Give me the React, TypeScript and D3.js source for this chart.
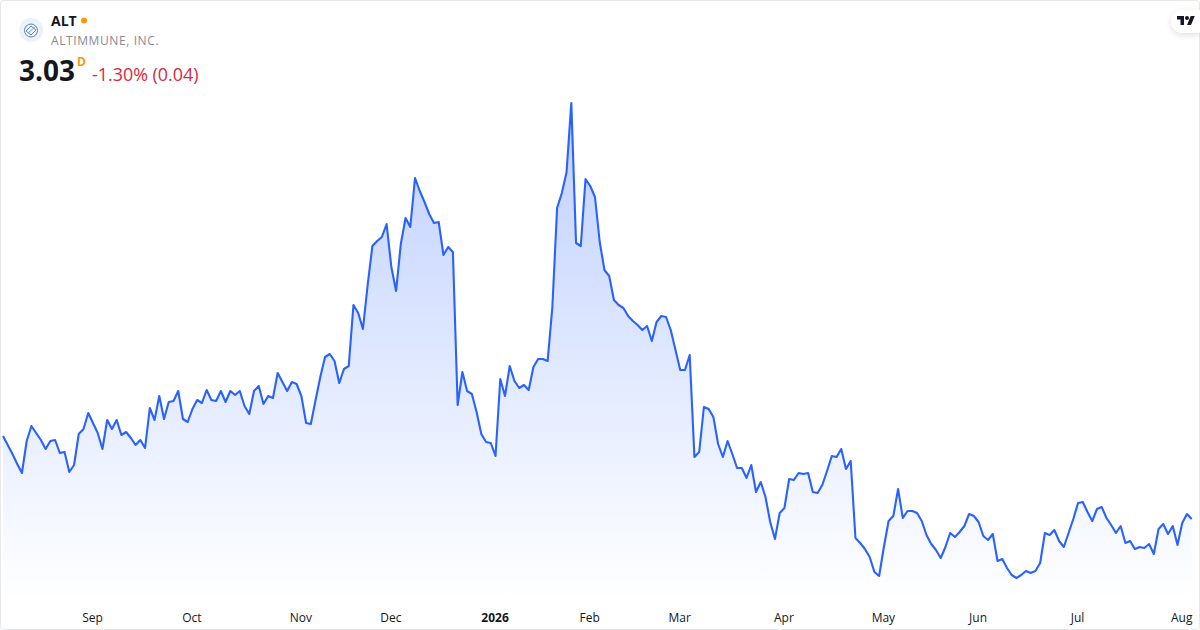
import React from "react";
import * as d3 from "d3";

const width = 1200;
const height = 630;

const ticker = "ALT";
const companyName = "ALTIMMUNE, INC.";
const lastPrice = "3.03";
const priceChange = "-1.30% (0.04)";

// market holidays between the first and last session
const holidays = [
  "2025-09-01", "2025-11-27", "2025-12-25", "2026-01-01", "2026-01-19",
  "2026-02-16", "2026-04-03", "2026-05-25", "2026-06-19", "2026-07-03",
];

const closes = [
  3.86, 3.77, 3.68, 3.58, 3.49, 3.81, 3.96, 3.89, 3.82, 3.73,
  3.81, 3.82, 3.69, 3.70, 3.50, 3.57, 3.88, 3.93, 4.09, 3.99,
  3.89, 3.73, 4.02, 3.93, 4.02, 3.87, 3.90, 3.84, 3.77, 3.82,
  3.74, 4.14, 4.02, 4.26, 4.03, 4.20, 4.21, 4.31, 4.03, 4.00,
  4.13, 4.22, 4.19, 4.32, 4.22, 4.21, 4.31, 4.20, 4.31, 4.27,
  4.31, 4.16, 4.08, 4.31, 4.36, 4.18, 4.26, 4.24, 4.49, 4.40,
  4.31, 4.40, 4.38, 4.26, 3.99, 3.98, 4.22, 4.45, 4.65, 4.68,
  4.61, 4.39, 4.53, 4.56, 5.17, 5.09, 4.93, 5.37, 5.76, 5.81,
  5.85, 5.98, 5.55, 5.31, 5.78, 6.04, 5.95, 6.44, 6.31, 6.20,
  6.08, 5.99, 6.00, 5.67, 5.75, 5.70, 4.17, 4.50, 4.31, 4.28,
  4.10, 3.88, 3.80, 3.79, 3.66, 4.43, 4.26, 4.56, 4.41, 4.34,
  4.37, 4.32, 4.55, 4.63, 4.63, 4.61, 5.15, 6.14, 6.29, 6.50,
  7.19, 5.79, 5.76, 6.43, 6.36, 6.25, 5.80, 5.52, 5.46, 5.22,
  5.17, 5.14, 5.06, 5.01, 4.97, 4.92, 4.96, 4.81, 5.00, 5.06,
  5.05, 4.92, 4.72, 4.52, 4.52, 4.67, 3.65, 3.70, 4.15, 4.13,
  4.05, 3.78, 3.65, 3.81, 3.68, 3.54, 3.54, 3.44, 3.57, 3.30,
  3.40, 3.25, 3.00, 2.83, 3.09, 3.14, 3.43, 3.42, 3.49, 3.48,
  3.49, 3.30, 3.29, 3.37, 3.51, 3.66, 3.65, 3.73, 3.53, 3.61,
  2.84, 2.79, 2.73, 2.65, 2.50, 2.46, 2.75, 3.01, 3.06, 3.33,
  3.04, 3.11, 3.11, 3.09, 3.01, 2.87, 2.78, 2.72, 2.64, 2.75,
  2.89, 2.85, 2.90, 2.96, 3.08, 3.06, 3.00, 2.86, 2.82, 2.88,
  2.61, 2.63, 2.54, 2.47, 2.44, 2.47, 2.51, 2.49, 2.51, 2.59,
  2.89, 2.87, 2.92, 2.81, 2.75, 2.89, 3.03, 3.19, 3.20, 3.10,
  3.01, 3.13, 3.15, 3.04, 2.97, 2.89, 2.96, 2.79, 2.81, 2.73,
  2.75, 2.74, 2.78, 2.68, 2.93, 2.98, 2.88, 2.96, 2.77, 2.99,
  3.08, 3.03,
];

const fmtDay = d3.timeFormat("%Y-%m-%d");

// weekdays minus holidays
const sessions = d3
  .timeDay.range(new Date(2025, 7, 5), new Date(2026, 7, 6))
  .filter((d) => d.getDay() !== 0 && d.getDay() !== 6 && !holidays.includes(fmtDay(d)));

const sessionKeys = sessions.map(fmtDay);

const xScale = d3.scalePoint<string>().domain(sessionKeys).range([3, 1191.7]);
const yScale = d3.scaleLinear().domain([2.44, 7.19]).range([578, 103]);

const rows = sessionKeys.slice(0, closes.length).map((key, i) => ({ key, close: closes[i] }));

// first session of every month gets a label, the first of the year shows the year
const monthTicks = sessions.filter(
  (d, i) => i > 0 && d.getMonth() !== sessions[i - 1].getMonth()
);

const line = d3
  .line<{ key: string; close: number }>()
  .x((d) => xScale(d.key)!)
  .y((d) => yScale(d.close));

const area = d3
  .area<{ key: string; close: number }>()
  .x((d) => xScale(d.key)!)
  .y0(600)
  .y1((d) => yScale(d.close));

const font = '"Open Sans", sans-serif';

const App: React.FC = () => {
  return (
    <div>
      <style>{`body{margin:0}`}</style>
      <svg width={width} height={height} style={{ display: "block", fontFamily: font }}>
        <defs>
          <linearGradient id="areaFill" gradientUnits="userSpaceOnUse" x1="0" y1="103" x2="0" y2="600">
            <stop offset="0%" stopColor="#2962ff" stopOpacity={0.3} />
            <stop offset="100%" stopColor="#2962ff" stopOpacity={0} />
          </linearGradient>
          <filter id="tabShadow" x="-40%" y="-40%" width="180%" height="200%">
            <feDropShadow dx="0" dy="2" stdDeviation="3" floodColor="#000" floodOpacity={0.12} />
          </filter>
        </defs>

        <rect x={0.5} y={0.5} width={width - 1} height={height - 1} rx={3} fill="#fff" stroke="#e6e8ee" />

        <path d={area(rows)!} fill="url(#areaFill)" />
        <path d={line(rows)!} fill="none" stroke="#2962ff" strokeWidth={2.1} strokeLinejoin="round" />

        {monthTicks.map((d) => {
          const isYear = d.getMonth() === 0;
          return (
            <text
              key={fmtDay(d)}
              x={xScale(fmtDay(d))! - 0.5}
              y={622}
              textAnchor="middle"
              fontSize={12}
              fontWeight={isYear ? 700 : 400}
              fill="#131722"
            >
              {isYear ? d3.timeFormat("%Y")(d) : d3.timeFormat("%b")(d)}
            </text>
          );
        })}

        {/* header */}
        <circle cx={31} cy={30} r={12} fill="#edf1fa" />
        <g fill="none" stroke="#5b87c5" strokeWidth={1}>
          <circle cx={31} cy={30.5} r={6.5} />
          <path d="M26 31l5-5 5 4-5 5z" />
          <path d="M28 33l7-6" stroke="#7fb48f" />
        </g>
        <text x={51} y={26} fontSize={14} fontWeight={700} fill="#131722">{ticker}</text>
        <circle cx={84} cy={20.5} r={3} fill="#ff9800" />
        <text x={51} y={45} fontSize={12} fill="#8a8a8f" letterSpacing={0.6}>{companyName}</text>
        <text x={19} y={81} fontSize={28} fontWeight={700} fill="#131722">{lastPrice}</text>
        <text x={77} y={66} fontSize={12} fontWeight={700} fill="#ff9800">D</text>
        <text x={92} y={81} fontSize={17.9} fill="#d6293e">{priceChange}</text>

        {/* TV badge */}
        <path
          d="M1200 10H1183a12 11.5 0 0 0 0 23H1200z"
          fill="#fff"
          filter="url(#tabShadow)"
        />
        <g transform="translate(1177,14) scale(0.5)" fill="#131722">
          <path d="M14 22H7V11H0V4h14v18zM28 22h-8l7.5-18h8L28 22z" />
          <circle cx="20" cy="8" r="4" />
        </g>
      </svg>
    </div>
  );
};

export default App;
